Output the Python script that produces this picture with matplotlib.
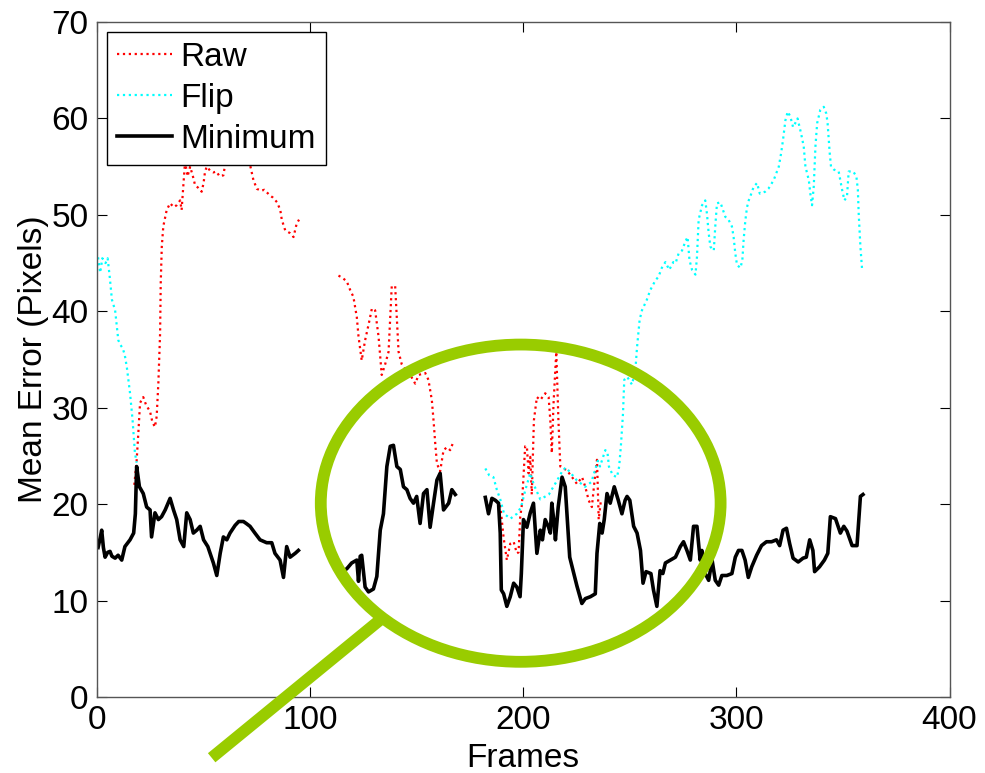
import numpy as np
import matplotlib
matplotlib.use("Agg")
import matplotlib.pyplot as plt
from matplotlib.patches import Ellipse
from matplotlib.lines import Line2D

plt.rcParams['font.family'] = ['Liberation Sans', 'DejaVu Sans']

nan = np.nan

# ---------------- data ----------------
raw_frames = [17.5, 18.6, 19.4, 20.2, 21.7, 23, 24.9, 26, 27.2, 28, 28.8, 29.6, 29.9, 30.4, 31.1, 32.7,
              34.3, 36, 37.4, 39, 39.7, 40.5, 41.3, 42.5, 43.7, 45, 46, 47.5, 49.1, 50, 50.7, 51.5, 53,
              54.6, 56, 57.5, 59.3, 60.1, 62, 65, 68, 71, 71.8, 73.4, 75, 77, 78.5, 80.3, 81.2, 82.5,
              84.5, 86, 86.7, 88.3, 90.6, 92.2, 93.7, 94.8, nan,
              113.3, 115, 117.2, 118.8, 120.3, 121.9, 122.7, 124.2, 125.8, 127.4, 129, 130.5, 132.1,
              133.6, 135.2, 136.8, 138.3, 139.9, 141.5, 143, 145, 147, 149.3, 150.9, 154, 155.5,
              157.1, 157.9, 158.7, 159.5, 161, 162.6, 164.2, 165.7, 167.3, nan,
              189.2, 190.8, 192.3, 193.9, 195.5, 197, 197.8, 198.6, 199.4, 200.1, 200.9, 201.7, 202.5,
              203.3, 204, 205, 206.4, 208, 210.3, 211.9, 212.7, 213.4, 214.2, 215.5, 216.5, 217.4,
              220.5, 222.9, 225.2, 227.6, 229.1, 230.7, 232.2, 233.8, 234.6, 235.4, 236.5]
raw_values = [22.0, 24.5, 27.4, 30.5, 31.1, 30.3, 29.6, 28.5, 28.0, 29.1, 32.6, 37.7, 42.9, 46.7, 48.8, 50.5,
              51.2, 50.8, 51.0, 51.5, 50.5, 53.0, 55.5, 54.0, 55.0, 54.0, 53.1, 52.8, 52.4, 53.3, 54.5, 55.0, 54.6,
              54.4, 54.5, 54.0, 54.1, 55.2, 56.5, 57.0, 56.5, 56.0, 55.2, 53.6, 52.7, 52.5, 52.6, 52.2, 52.0, 51.8,
              51.3, 50.5, 49.5, 48.4, 48.1, 47.7, 49.1, 49.5, nan,
              43.7, 43.5, 43.1, 42.2, 41.5, 39.4, 37.4, 34.9, 37.0, 38.6, 40.3, 40.1, 37.4,
              33.4, 34.5, 35.8, 42.6, 42.6, 35.8, 34.5, 33.8, 33.4, 32.5, 33.4, 33.6, 32.9,
              30.8, 28.7, 26.3, 24.2, 23.4, 25.6, 25.9, 25.6, 26.5, nan,
              19.9, 16.5, 14.2, 15.9, 16.1, 14.9, 15.0, 18.7, 20.0, 22.8, 26.0, 26.0, 23.2,
              24.9, 21.0, 28.7, 31.1, 30.8, 31.5, 31.1, 28.7, 25.3, 30.4, 35.8, 28.7, 23.9,
              23.5, 22.8, 22.1, 22.8, 21.8, 20.4, 19.7, 23.2, 24.6, 18.4, 20.5]

flip_frames = [0.5, 1.5, 2.5, 4, 5, 6, 7, 8.5, 10, 11, 12, 13, 14, 15.5, 16.7, 17.8, 18.6, nan,
               182.2, 184, 186, 187.6, 189.2, 191, 194, 197, 199, 201, 203.3, 205, 208, 212, 216,
               218.5, 220, 222, 225, 229, 232, 235, 236, 238.5, 239.5, 240.2, 242, 244, 245, 245.8,
               246.8, 247.4, 248.8, 251, 252.6, 253.4, 254.6, 255.7, 258, 259.6, 262, 263.5, 265,
               266.7, 268.5, 270.4, 271.5, 272.9, 274.5, 276, 277.1, 278, 279.2, 280.8, 281.5, 282.3,
               283.9, 285.4, 286.2, 287, 287.8, 289.4, 290.1, 290.9, 292.5, 294.8, 296.3, 297.9,
               298.7, 299.5, 300.3, 301.9, 302.8, 303.4, 304.2, 305, 305.8, 307, 308.1, 309.7, 311,
               313.5, 315, 317.5, 318.7, 319.9, 321, 321.9, 323, 324.1, 325.3, 326.6, 327.6, 328.7,
               330.3, 331.6, 332.4, 334, 334.7, 335.5, 336.3, 337.1, 337.9, 339.4, 341, 342.2, 342.8,
               343.8, 344.4, 345.7, 348, 349.6, 350.7, 351.9, 352.7, 354.8, 356.3, 357, 357.4, 358.2, 359]
flip_values = [45.6, 44.0, 45.5, 45.0, 45.5, 43.5, 41.2, 40.1, 37.0, 36.5, 36.2, 35.5, 34.2, 31.5, 28.7, 25.3, 24.3, nan,
               23.7, 23.0, 22.8, 21.5, 20.5, 19.0, 18.5, 19.0, 19.7, 21.5, 23.2, 22.0, 20.5, 21.0, 22.5,
               23.5, 23.8, 23.3, 22.5, 21.8, 22.3, 24.5, 23.9, 25.6, 25.4, 23.9, 23.0, 22.8, 23.9, 26.0,
               29.4, 32.9, 33.2, 32.4, 33.9, 36.3, 39.1, 40.1, 41.2, 42.2, 43.2, 43.6, 44.5,
               45.1, 44.3, 45.1, 45.0, 46.0, 46.3, 47.2, 47.7, 45.3, 44.3, 43.8, 45.6, 49.5,
               51.0, 51.5, 50.1, 48.1, 46.7, 46.3, 48.8, 51.2, 51.3, 49.8, 49.5, 48.8,
               47.7, 46.0, 44.8, 44.5, 45.3, 47.4, 49.4, 50.8, 51.5, 52.2, 52.9, 53.3, 52.2,
               52.4, 52.7, 53.6, 54.3, 55.0, 56.4, 57.8, 59.8, 60.7, 60.2, 59.1, 59.5, 60.0,
               58.5, 57.1, 55.0, 53.6, 52.2, 51.0, 52.9, 57.1, 59.5, 60.9, 61.2, 60.5, 59.5,
               56.4, 55.0, 54.7, 54.5, 52.6, 51.5, 51.9, 54.5, 54.5, 54.0, 52.6, 50.1, 46.7, 44.3]

min_frames = [0.5, 1.5, 2.2, 3, 3.8, 5, 6.1, 7, 8.5, 9.9, 11.6, 13.1, 15.5, 17.2, 18.0, 18.6, 19.9, 21.7,
              23.3, 24.9, 25.6, 27.2, 28.8, 30.3, 32, 34.3, 35.9, 37.4, 39, 40.7, 42.1, 43.7, 45.2, 46.8,
              48.4, 50, 52, 54.6, 56.2, 57.8, 59.3, 60.9, 62.4, 64.8, 66.5, 68.7, 70, 71.8, 74.1, 76.5,
              79.6, 82, 83.5, 85.9, 87.5, 89, 90.6, 93, 94.5, nan,
              116.5, 117.2, 119.5, 121.9, 122.7, 123.5, 124.2, 125.8, 127.4, 129.7, 131.3, 132.9, 134.4,
              136, 137.6, 139.1, 140.7, 142.3, 143.8, 145.4, 146.9, 148.5, 150, 151.6, 153.2, 154.8,
              156.3, 157.9, 159.5, 161, 162.6, 165, 166.5, 168.1, nan,
              182.2, 183.7, 185.3, 186.9, 188.4, 189.2, 189.7, 190.8, 192.3, 193.9, 195.5, 197, 198.5,
              199.1, 200.1, 201.7, 203.3, 204.8, 206.4, 208, 209, 210.3, 211.9, 212.7, 213.4, 214.3,
              215.1, 216.4, 218.2, 219.7, 220.5, 221.8, 223.7, 225.2, 227.5, 229.1, 231.5, 233.8,
              234.6, 235.9, 237, 238, 239.3, 240.8, 242.7, 244.6, 246.3, 247.8, 248.7, 250, 251.8,
              253.4, 255, 256.2, 257.6, 259.9, 261.1, 262.7, 264.2, 265.5, 266.7, 269, 271.4, 273.7,
              275.2, 276.8, 278.4, 279.9, 281.5, 283, 283.8, 285.4, 287, 288.6, 290.1, 291.7, 293.2,
              295.5, 297.9, 299.5, 301, 302.6, 304.1, 305.6, 307.2, 309.5, 311.8, 314.1, 316.5, 318.8,
              320.3, 321.9, 323.5, 325, 326.6, 329, 331.3, 332.8, 334.4, 335.9, 336.7, 339, 341.3,
              342.9, 344.1, 346.5, 348.8, 350.4, 351.9, 354.3, 356.6, 358.2, 359.4]
min_values = [15.5, 16.5, 17.3, 15.5, 14.5, 15.0, 15.1, 14.6, 14.4, 14.7, 14.2, 15.6, 16.3, 17.0, 19.0, 23.9, 21.8, 21.1,
              19.7, 19.4, 16.6, 19.1, 18.4, 18.7, 19.4, 20.6, 19.4, 18.4, 16.3, 15.6, 19.1, 18.4, 17.0, 17.3,
              17.7, 16.3, 15.6, 13.9, 12.6, 14.9, 16.6, 16.3, 17.0, 17.8, 18.2, 18.2, 18.0, 17.7, 17.0, 16.3,
              16.0, 16.0, 14.9, 14.2, 12.4, 15.6, 14.5, 14.9, 15.2, nan,
              13.2, 13.3, 13.9, 14.2, 12.0, 14.6, 14.7, 11.4, 10.9, 11.2, 12.5, 17.3, 19.0,
              23.9, 26.0, 26.1, 23.9, 23.6, 21.8, 21.5, 20.6, 20.1, 20.8, 18.0, 21.1, 21.5,
              17.6, 20.1, 22.5, 23.2, 19.4, 20.1, 21.5, 21.0, nan,
              20.7, 19.0, 20.6, 20.4, 20.1, 17.0, 11.1, 10.7, 9.4, 10.4, 11.8, 11.4, 10.4,
              12.8, 18.4, 17.6, 19.1, 20.1, 14.9, 17.3, 16.3, 18.4, 17.6, 17.0, 20.1, 18.4,
              16.3, 19.7, 22.8, 21.8, 19.0, 14.5, 12.8, 11.5, 9.7, 10.2, 10.4, 10.7,
              14.9, 18.0, 17.0, 18.4, 21.1, 20.1, 21.8, 20.4, 19.0, 20.4, 20.8, 20.4, 17.7,
              17.0, 15.2, 11.8, 13.0, 12.8, 11.1, 9.4, 13.1, 12.8, 13.9, 14.2, 14.5, 15.6,
              16.1, 15.2, 14.2, 17.7, 17.7, 14.2, 15.2, 12.8, 12.1, 14.2, 12.1, 11.6, 12.6,
              12.6, 12.8, 14.5, 15.2, 15.2, 14.2, 12.4, 13.5, 14.7, 15.7, 16.1, 16.1, 16.3,
              15.7, 17.3, 17.5, 15.9, 14.4, 14.0, 14.4, 14.5, 16.3, 15.2, 13.0, 13.5, 14.2,
              14.9, 18.7, 18.5, 17.0, 17.7, 17.2, 15.7, 15.7, 20.8, 21.0]

series_labels = ['Raw', 'Flip', 'Minimum']
x_ticks = [0, 100, 200, 300, 400]
y_ticks = [0, 10, 20, 30, 40, 50, 60, 70]

# highlight (magnifier) in data units
circle_center = (198.8, 20.1)
circle_size = (187.6, 32.9)
handle_x = [134.5, 53.8]
handle_y = [8.3, -6.3]

# ---------------- figure ----------------
fig = plt.figure(figsize=(9.85, 7.73), dpi=100)
ax = fig.add_axes([97/985, 76/773, 852.5/985, 675/773])

ax.plot(raw_frames, raw_values, color='#ff0000', linestyle=':', linewidth=1.6, label=series_labels[0])
ax.plot(flip_frames, flip_values, color='#00ffff', linestyle=':', linewidth=1.6, label=series_labels[1])
ax.plot(min_frames, min_values, color='black', linestyle='-', linewidth=2.6, label=series_labels[2])

ax.set_xlim(0, 400)
ax.set_ylim(0, 70)
ax.set_xticks(x_ticks)
ax.set_yticks(y_ticks)
ax.tick_params(direction='in', top=True, right=True, length=7, width=0.8,
               labelsize=24, colors='black', pad=6)
for s in ax.spines.values():
    s.set_color('#555555')
    s.set_linewidth(1.0)

ax.set_xlabel('Frames', fontsize=24, labelpad=5)
ax.set_ylabel('Mean Error (Pixels)', fontsize=24, labelpad=2)

leg = ax.legend(loc='upper left', fontsize=24, frameon=True, fancybox=False,
                edgecolor='black', framealpha=1, borderpad=0.3, labelspacing=0.3,
                handlelength=1.65, handletextpad=0.25, borderaxespad=0.3)
leg.get_frame().set_linewidth(1.0)
leg.set_zorder(6)

green = '#99cc00'
ell = Ellipse(circle_center, circle_size[0], circle_size[1], fill=False,
              edgecolor=green, linewidth=8.5, zorder=7, clip_on=False)
ax.add_patch(ell)
ax.add_line(Line2D(handle_x, handle_y, color=green, linewidth=8.5,
                   solid_capstyle='butt', zorder=7, clip_on=False))

fig.savefig('out.png', dpi=100)
